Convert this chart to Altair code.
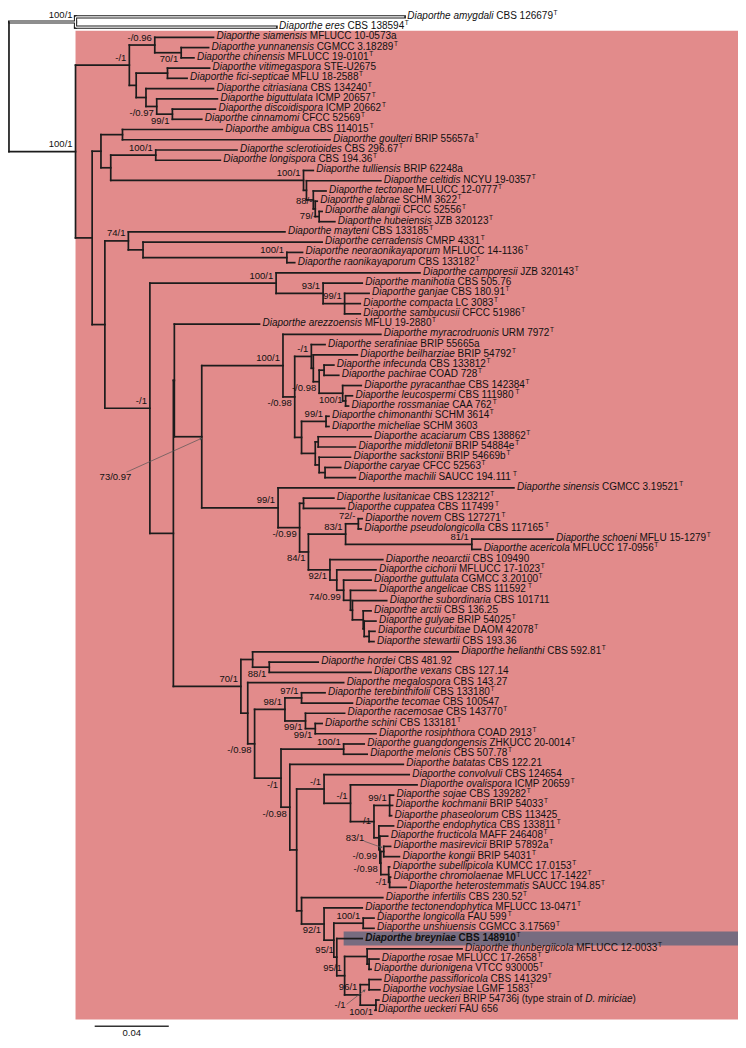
import math
import altair as alt
import pandas as pd

# ---------------- data ----------------
GENUS = "Diaporthe"
EPITHETS = [
    "amygdali", "eres", "siamensis", "yunnanensis", "chinensis", "vitimegaspora", "fici-septicae",
    "citriasiana", "biguttulata", "discoidispora", "cinnamomi", "ambigua", "goulteri", "sclerotioides",
    "longispora", "tulliensis", "celtidis", "tectonae", "glabrae", "alangii", "hubeiensis", "mayteni",
    "cerradensis", "neoraonikayaporum", "raonikayaporum", "camporesii", "manihotia", "ganjae", "compacta",
    "sambucusii", "arezzoensis", "myracrodruonis", "serafiniae", "beilharziae", "infecunda", "pachirae",
    "pyracanthae", "leucospermi", "rossmaniae", "chimonanthi", "micheliae", "acaciarum", "middletonii",
    "sackstonii", "caryae", "machili", "sinensis", "lusitanicae", "cuppatea", "novem", "pseudolongicolla",
    "schoeni", "acericola", "neoarctii", "cichorii", "guttulata", "angelicae", "subordinaria", "arctii",
    "gulyae", "cucurbitae", "stewartii", "helianthi", "hordei", "vexans", "megalospora", "terebinthifolii",
    "tecomae", "racemosae", "schini", "rosiphthora", "guangdongensis", "melonis", "batatas", "convolvuli",
    "ovalispora", "sojae", "kochmanii", "phaseolorum", "endophytica", "fructicola", "masirevicii", "kongii",
    "subellipicola", "chromolaenae", "heterostemmatis", "infertilis", "tectonendophytica", "longicolla",
    "unshiuensis", "breyniae", "thunbergiicola", "rosae", "durionigena", "passifloricola", "vochysiae",
    "ueckeri", "ueckeri",
]
STRAINS = [
    "CBS 126679", "CBS 138594", "MFLUCC 10-0573a", "CGMCC 3.18289", "MFLUCC 19-0101", "STE-U2675",
    "MFLU 18-2588", "CBS 134240", "ICMP 20657", "ICMP 20662", "CFCC 52569", "CBS 114015", "BRIP 55657a",
    "CBS 296.67", "CBS 194.36", "BRIP 62248a", "NCYU 19-0357", "MFLUCC 12-0777", "SCHM 3622", "CFCC 52556",
    "JZB 320123", "CBS 133185", "CMRP 4331", "MFLUCC 14-1136", "CBS 133182", "JZB 320143", "CBS 505.76",
    "CBS 180.91", "LC 3083", "CFCC 51986", "MFLU 19-2880", "URM 7972", "BRIP 55665a", "BRIP 54792",
    "CBS 133812", "COAD 728", "CBS 142384", "CBS 111980", "CAA 762", "SCHM 3614", "SCHM 3603", "CBS 138862",
    "BRIP 54884e", "BRIP 54669b", "CFCC 52563", "SAUCC 194.111", "CGMCC 3.19521", "CBS 123212", "CBS 117499",
    "CBS 127271", "CBS 117165", "MFLU 15-1279", "MFLUCC 17-0956", "CBS 109490", "MFLUCC 17-1023",
    "CGMCC 3.20100", "CBS 111592", "CBS 101711", "CBS 136.25", "BRIP 54025", "DAOM 42078", "CBS 193.36",
    "CBS 592.81", "CBS 481.92", "CBS 127.14", "CBS 143.27", "CBS 133180", "CBS 100547", "CBS 143770",
    "CBS 133181", "COAD 2913", "ZHKUCC 20-0014", "CBS 507.78", "CBS 122.21", "CBS 124654", "ICMP 20659",
    "CBS 139282", "BRIP 54033", "CBS 113425", "CBS 133811", "MAFF 246408", "BRIP 57892a", "BRIP 54031",
    "KUMCC 17.0153", "MFLUCC 17-1422", "SAUCC 194.85", "CBS 230.52", "MFLUCC 13-0471", "FAU 599",
    "CGMCC 3.17569", "CBS 148910", "MFLUCC 12-0033", "MFLUCC 17-2658", "VTCC 930005", "CBS 141329",
    "LGMF 1583", "BRIP 54736j (type strain of *D. miriciae*)", "FAU 656",
]
IS_TYPE = [
    1, 1, 0, 1, 1, 0, 1, 1, 1, 1, 1, 1, 1, 1, 1, 0, 1, 1, 1, 1, 1, 1, 1, 1, 1, 1, 0, 1, 1, 1,
    1, 1, 0, 1, 1, 1, 1, 1, 1, 1, 0, 1, 1, 1, 1, 1, 1, 1, 1, 1, 1, 1, 1, 0, 1, 1, 1, 0, 0, 1,
    1, 0, 1, 0, 0, 0, 1, 0, 1, 1, 1, 1, 1, 0, 0, 1, 1, 1, 0, 1, 1, 1, 1, 1, 1, 1, 1, 1, 1, 1,
    1, 1, 1, 1, 1, 1, 0, 0,
]
# depth (measured along the scale, in reference pixels from the root) where each tip branch ends
TIP_END_PX = [
    405, 274, 210, 205, 190, 206, 183, 210, 214, 212, 198, 219, 329, 234, 217, 312, 381, 325, 316, 321,
    334, 283, 321, 301, 293, 421, 362, 369, 360, 360, 257, 381, 324, 357, 333, 338, 361, 352, 348, 328,
    328, 371, 355, 350, 340, 355, 517, 333, 344, 362, 361, 557, 483, 383, 376, 371, 376, 387, 371, 376,
    375, 374, 460, 317, 371, 343, 324, 352, 344, 321, 376, 364, 367, 404, 410, 418, 394, 393, 392, 394,
    388, 391, 400, 390, 391, 407, 383, 362, 374, 374, 362, 464, 379, 371, 381, 380, 379, 375,
]
HIGHLIGHT_TIP = 90          # D. breyniae (new species)
HIGHLIGHT_FROM_PX = 343

# internal nodes: [depth_px, support, label placement, children...]; ints are tip indices
B1 = [150, "-/0.96", "a", 2, [177, "70/1", "b", 3, 4]]
B2 = [131, "", "", [163, "", "", 5, 6], [141, "", "", 7, [152, "-/0.97", "b", 8, [168, "99/1", "b", 9, 10]]]]
CL_B = [124, "-/1", "a", B1, B2]
CL_T = [302, "100/1", "a", 15, [305, "", "", 16, [312, "", "", 17, [314, "88/-", "a", 18, [318, "79/-", "m", 19, 20]]]]]
CL_D = [105, "", "", [151, "100/1", "a", 13, 14], CL_T]
CL_E = [95, "", "", [117, "", "", 11, 12], CL_D]
CL_G = [123, "74/1", "a", 21, [138, "", "", 22, [285, "100/1", "a", 23, 24]]]
CL_I = [274, "100/1", "a", 25, [322, "93/1", "a", 26, [344, "99/1", "a", 27, 28, 29]]]
CL_Q = [318, "-/0.98", "b", [323, "", "", 34, 35], [342, "", "", 36, [345, "100/1", "m", 37, 38]]]
CL_O = [310, "-/1", "a", 32, [312, "", "", 33, CL_Q]]
CL_P = [300, "", "", [325, "99/1", "a", 39, 40], [314, "", "", [317, "", "", 41, 42], [318, "", "", 43, [324, "", "", 44, 45]]]]
CL_M = [281, "100/1", "a", 31, [293, "-/0.98", "b", CL_O, CL_P]]
CL_92 = [329, "92/1", "b", 53, [336, "", "", 54, [343, "74/0.99", "b", 55, [350, "", "", 56, [352, "", "", 57,
         [363, "", "", 58, [364, "", "", 59, [369, "", "", 60, 61]]]]]]]]
CL_84 = [307, "84/1", "b", [345, "83/1", "a", [358, "72/-", "a", 49, 50], [474, "81/1", "a", 51, 52]], CL_92]
CL_Z = [276, "99/1", "a", 46, [298, "-/0.99", "b", [302, "", "", 47, 48], CL_84]]
CL_K = [198, "73/0.97", "c1", CL_M, CL_Z]
CL_J = [170, "", "", 30, CL_K]
CL_98 = [283, "98/1", "a", [300, "97/1", "a", 66, 67], [304, "99/1", "b", 68, [314, "99/1", "b", 69, 70]]]
CL_L11 = [381, "-/0.98", "b", [384, "", "", 81, 82], [389, "", "", 83, [390, "-/1", "m", 84, 85]]]
CL_L8 = [374, "-/1", "m", [390, "99/1", "a", 76, 77, 78], [379, "83/1", "c2", 79, [380, "-/0.99", "b", 80, CL_L11]]]
CL_L6 = [323, "-/1", "a", 74, [350, "-/1", "a", 75, CL_L8]]
CL_R7 = [360, "96/1", "a", [369, "-/1", "c3", 94, 95], [376, "100/1", "b", 96, 97]]
CL_R3 = [333, "", "", [363, "100/1", "a", 88, 89],
         [336, "95/1", "a", 90, [344, "95/1", "a", [367, "", "", 91, [369, "", "", 92, 93]], CL_R7]]]
CL_R1 = [300, "", "", 86, [323, "92/1", "b", 87, CL_R3]]
CL_L4 = [279, "-/1", "b", [343, "100/1", "a", 71, 72], [288, "-/0.98", "b", 73, [295, "", "", CL_L6, CL_R1]]]
CL_L = [238, "70/1", "a", [250, "", "", 62, [267, "88/1", "b", 63, 64]],
        [245, "", "", 65, [252, "-/0.98", "b", CL_98, CL_L4]]]
CL_H = [145, "-/1", "a", CL_I, [169, "", "", CL_J, CL_L]]
CL_C = [86, "", "", CL_E, [99, "", "", CL_G, CL_H]]
INGROUP = [69, "100/1", "a", CL_B, CL_C]
OUTGROUP = [69, "100/1", "a", 0, 1]
ROOT_PX = 1.0

# callouts: text offset (dx, dy) and leader start/end offsets, reference px relative to the node
CALLOUTS = {
    "c1": (-72, 42, -77, 36, -1, 2),
    "c2": (-15, 1.5, -15, 3.5, 2, 9.5),
    "c3": (-24, 22, -23, 20, -5, 6),
}
SCALE_BAR_SUBST = 0.04
SCALE_BAR_PX = 75.7
SCALE_BAR_START_PX = 88.6

# ---------------- layout ----------------
W, H = 730, 1032
REF_W, REF_TOP, REF_BOTTOM = 746.0, 1.0, 1048.0
TIP0_REF, TIP_STEP_REF = 10.0, 10.39
PX_PER_SUBST = SCALE_BAR_PX / SCALE_BAR_SUBST
FONT = "Liberation Sans"
PINK = "#E28B8B"
HILITE = "#776C80"
INK = "#1c1c1c"


def sx(px):
    return (px - ROOT_PX) / PX_PER_SUBST


def ry(ref_y):
    return (ref_y - TIP0_REF) / TIP_STEP_REF


XMIN, XMAX = sx(0), sx(REF_W)
YMIN, YMAX = ry(REF_TOP), ry(REF_BOTTOM)
K = W / (XMAX - XMIN)
KX = W / REF_W
KY = H / (REF_BOTTOM - REF_TOP)

W_REG = {' ': 278, '(': 333, ')': 333, '-': 333, '.': 278, '/': 278, 'A': 667, 'B': 667, 'C': 722,
         'D': 722, 'E': 667, 'F': 611, 'G': 778, 'H': 722, 'I': 278, 'J': 500, 'K': 667, 'L': 556,
         'M': 833, 'N': 722, 'O': 778, 'P': 667, 'Q': 778, 'R': 722, 'S': 667, 'T': 611, 'U': 722,
         'V': 667, 'W': 944, 'X': 667, 'Y': 667, 'Z': 611, 'a': 556, 'b': 556, 'c': 500, 'd': 556,
         'e': 556, 'f': 278, 'g': 556, 'h': 556, 'i': 222, 'j': 222, 'k': 500, 'l': 222, 'm': 833,
         'n': 556, 'o': 556, 'p': 556, 'q': 556, 'r': 333, 's': 500, 't': 278, 'u': 556, 'v': 500,
         'w': 722, 'x': 500, 'y': 500, 'z': 500}
W_BOLD = dict(W_REG)
W_BOLD.update({'A': 722, 'B': 722, 'J': 556, 'K': 722, 'L': 611, 'b': 611, 'c': 556, 'd': 611,
               'f': 333, 'g': 611, 'h': 611, 'i': 278, 'j': 278, 'k': 556, 'l': 278, 'm': 889,
               'n': 611, 'o': 611, 'p': 611, 'q': 611, 'r': 389, 's': 556, 't': 333, 'u': 611,
               'v': 556, 'w': 778, 'x': 556, 'y': 556})
FS = 10.0


def tw(s, bold=False, size=FS):
    t = W_BOLD if bold else W_REG
    return sum(t.get(c, 556) for c in s) * size / 1000.0


# ---------------- tree walk ----------------
segs, labels = [], []


def walk(node, parent_px, grp):
    if isinstance(node, int):
        y = float(node)
        segs.append(dict(x=sx(parent_px), x2=sx(TIP_END_PX[node]), y=y, y2=y, grp=grp))
        return y
    px, lab, pos = node[0], node[1], node[2]
    ys = [walk(c, px, grp) for c in node[3:]]
    y = (ys[0] + ys[-1]) / 2.0
    segs.append(dict(x=sx(px), x2=sx(px), y=ys[0], y2=ys[-1], grp=grp))
    segs.append(dict(x=sx(parent_px), x2=sx(px), y=y, y2=y, grp=grp))
    if lab:
        labels.append((px, y, lab, pos))
    return y


y_out = walk(OUTGROUP, ROOT_PX, "out")
y_in = walk(INGROUP, ROOT_PX, "in")
segs.append(dict(x=sx(ROOT_PX), x2=sx(ROOT_PX), y=y_out, y2=y_in, grp="in"))
seg_df = pd.DataFrame(segs)

OFF = {"a": -6.5, "b": 7.5, "m": 0.5}
sup_lab, call_txt, call_line, call_head = [], [], [], []
for px, y, lab, pos in labels:
    if pos in CALLOUTS:
        tdx, tdy, l0x, l0y, l1x, l1y = CALLOUTS[pos]
        call_txt.append(dict(x=sx(px + tdx), y=y + tdy / TIP_STEP_REF, text=lab))
        call_line.append(dict(x=sx(px + l0x), x2=sx(px + l1x), y=y + l0y / TIP_STEP_REF,
                              y2=y + l1y / TIP_STEP_REF))
        ang = math.degrees(math.atan2((l1x - l0x) * KX, -(l1y - l0y) * KY)) % 360
        call_head.append(dict(x=sx(px + l1x), y=y + l1y / TIP_STEP_REF, ang=ang))
    else:
        sup_lab.append(dict(x=sx(px - 3), y=y + OFF[pos] / TIP_STEP_REF, text=lab))
sup_df = pd.DataFrame(sup_lab + call_txt)
call_df = pd.DataFrame(call_line)
head_df = pd.DataFrame(call_head)

GAP = 3.0
tip_rows, t_rows = [], []
for i in range(len(EPITHETS)):
    bold = i == HIGHLIGHT_TIP
    pieces = [(GENUS + " " + EPITHETS[i], "i")]
    for j, p in enumerate((" " + STRAINS[i]).split("*")):
        if p:
            pieces.append((p, "r" if j % 2 == 0 else "i"))
    x0 = sx(TIP_END_PX[i])
    cur = GAP
    for txt, st in pieces:
        lead = len(txt) - len(txt.lstrip(" "))
        tip_rows.append(dict(x=x0 + (cur + tw(" " * lead, bold)) / K, y=float(i),
                             text=txt.strip(" "), style=("b" if bold else "") + st))
        cur += tw(txt, bold)
    if IS_TYPE[i]:
        t_rows.append(dict(x=x0 + (cur + 0.6) / K, y=float(i), text="T"))
tip_df = pd.DataFrame(tip_rows)
t_df = pd.DataFrame(t_rows)

first_in, last_in = 2, len(EPITHETS) - 1
box_df = pd.DataFrame([dict(x=sx(INGROUP[0]), x2=XMAX, y=first_in - 0.65, y2=last_in + 0.9)])
hl_df = pd.DataFrame([dict(x=sx(HIGHLIGHT_FROM_PX), x2=XMAX, y=HIGHLIGHT_TIP - 0.68, y2=HIGHLIGHT_TIP + 0.68)])
sb0 = sx(SCALE_BAR_START_PX)
sb_df = pd.DataFrame([dict(x=sb0, x2=sb0 + SCALE_BAR_SUBST, y=ry(1034.0), y2=ry(1034.0))])
sbt_df = pd.DataFrame([dict(x=sb0 + SCALE_BAR_SUBST / 2, y=ry(1042.0), text=f"{SCALE_BAR_SUBST:g}")])

# ---------------- chart ----------------
xs = alt.Scale(domain=[XMIN, XMAX], nice=False, zero=False)
ys = alt.Scale(domain=[YMIN, YMAX], nice=False, zero=False, reverse=True)
X = alt.X("x:Q", scale=xs, axis=None)
Y = alt.Y("y:Q", scale=ys, axis=None)


def rects(df, color):
    return alt.Chart(df).mark_rect(color=color).encode(x=X, x2="x2:Q", y=Y, y2="y2:Q")


def rules(df, **kw):
    return alt.Chart(df).mark_rule(**kw).encode(x=X, x2="x2:Q", y=Y, y2="y2:Q")


def texts(df, **kw):
    base = dict(font=FONT, fontSize=FS, align="left", baseline="middle", dy=-1, color="#111111")
    base.update(kw)
    return alt.Chart(df).mark_text(**base).encode(x=X, y=Y, text="text:N")


heads = alt.Chart(head_df).mark_point(
    shape="triangle", filled=True, size=10, color="#555555", opacity=1
).encode(x=X, y=Y, angle=alt.Angle("ang:Q", scale=None))

layers = [
    rects(box_df, PINK),
    rects(hl_df, HILITE),
    rules(seg_df[seg_df.grp == "out"], color=INK, strokeWidth=3.2, strokeCap="square"),
    rules(seg_df[seg_df.grp == "out"], color="white", strokeWidth=1.2, strokeCap="butt"),
    rules(seg_df[seg_df.grp == "in"], color=INK, strokeWidth=1.7, strokeCap="square"),
    rules(call_df, color="#555555", strokeWidth=0.7),
    heads,
    texts(tip_df[tip_df["style"] == "i"], fontStyle="italic"),
    texts(tip_df[tip_df["style"] == "r"]),
    texts(tip_df[tip_df["style"] == "bi"], fontStyle="italic", fontWeight="bold"),
    texts(tip_df[tip_df["style"] == "br"], fontWeight="bold"),
    texts(t_df, fontSize=6.5, dy=-4),
    texts(sup_df, fontSize=9.5, align="right"),
    rules(sb_df, color="#333333", strokeWidth=1.5),
    texts(sbt_df, fontSize=9.5, align="center"),
]

chart = alt.layer(*layers).properties(
    width=W, height=H, padding=0, autosize=alt.AutoSizeParams(type="none")
).configure_view(stroke=None)

chart.save("out.html", embed_options={"renderer": "svg", "actions": False})
